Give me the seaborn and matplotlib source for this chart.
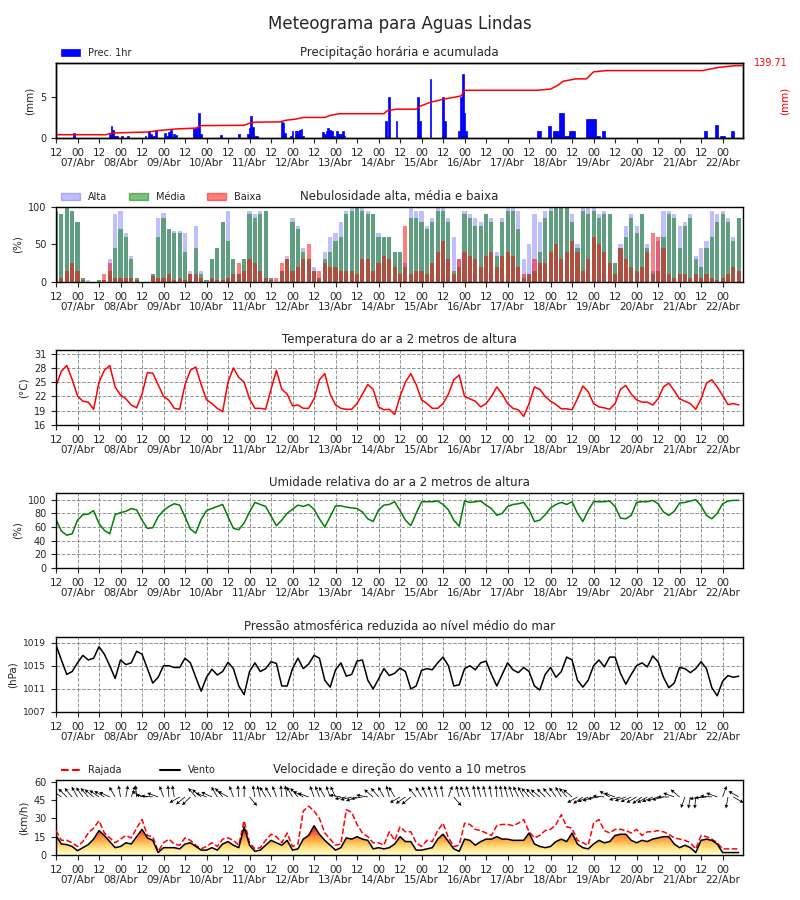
import numpy as np
import pandas as pd
import matplotlib
matplotlib.use("Agg")
import matplotlib.pyplot as plt
import seaborn as sns
from matplotlib.patches import Patch
from matplotlib.lines import Line2D

# horas desde 06/Abr 12h, passo de 3 h
horas = list(range(0, 384, 3))
dias = ["07/Abr", "08/Abr", "09/Abr", "10/Abr", "11/Abr", "12/Abr", "13/Abr", "14/Abr",
        "15/Abr", "16/Abr", "17/Abr", "18/Abr", "19/Abr", "20/Abr", "21/Abr", "22/Abr"]

prec_horas = [10, 30, 31, 32, 33, 34, 37, 40, 50, 52, 53, 54, 55, 56, 61, 62, 63, 64, 66, 67,
              77, 78, 79, 80, 81, 92, 102, 107, 108, 109, 110, 111, 112, 126, 127, 128, 131, 132,
              134, 135, 136, 137, 138, 149, 150, 151, 152, 153, 154, 155, 157, 158, 159, 160, 161,
              184, 186, 190, 202, 203, 209, 216, 217, 225, 226, 227, 228, 229, 269, 270, 275, 276,
              278, 279, 280, 281, 282, 283, 284, 285, 286, 287, 288, 289, 296, 297, 298, 299, 300,
              301, 302, 303, 305, 306, 362, 363, 368, 369, 371, 372, 373, 377, 378]
prec_mm = [0.6, 0.5, 1.5, 1.0, 0.2, 0.2, 0.3, 0.2, 0.2, 0.8, 0.5, 0.3, 0.3, 1.0, 0.6, 0.3, 0.7, 1.0, 0.5, 0.4,
           1.2, 1.2, 1.2, 3.0, 0.5, 0.4, 0.5, 0.5, 1.2, 2.7, 1.3, 0.2, 0.2, 2.0, 1.8, 0.6, 0.3, 0.8,
           0.8, 0.8, 1.0, 1.1, 0.2, 0.7, 0.5, 0.8, 1.2, 1.0, 0.9, 0.2, 0.8, 0.5, 0.5, 0.9, 0.2,
           2.1, 5.0, 2.1, 5.0, 2.1, 7.2, 5.0, 2.1, 0.8, 5.0, 7.8, 3.0, 0.8, 0.8, 0.8, 1.5, 1.5,
           0.8, 0.8, 0.8, 3.0, 3.0, 3.0, 0.3, 0.3, 0.3, 0.8, 0.8, 0.8, 2.3, 2.3, 2.3, 2.3, 2.3,
           2.3, 0.3, 0.3, 0.8, 0.8, 0.8, 0.8, 1.6, 1.6, 0.3, 0.3, 0.3, 0.8, 0.8]

acum_horas = [0, 28, 31, 40, 52, 57, 61, 67, 78, 81, 105, 108, 111, 125, 128, 134, 138, 150, 153,
              158, 183, 185, 190, 201, 203, 209, 217, 226, 228, 268, 276, 280, 283, 290, 296, 300,
              307, 361, 364, 370, 379, 383]
acum_mm = [6.3, 6.3, 9.5, 10.5, 11.6, 14.3, 15.5, 17.4, 19.0, 23.8, 24.5, 28.5, 30.5, 31.0, 34.0,
           36.5, 39.6, 39.6, 43.5, 46.8, 46.8, 53.0, 55.5, 55.5, 61.0, 69.0, 75.3, 81.0, 92.0,
           92.0, 94.3, 101.5, 109.4, 114.0, 114.0, 127.6, 130.0, 130.0, 132.4, 136.3, 139.5, 139.71]

alta = [95, 90, 100, 95, 80, 5, 2, 0, 2, 3,
        30, 90, 95, 65, 35, 5, 0, 0, 10, 85,
        92, 70, 68, 68, 65, 15, 75, 15, 2, 30,
        45, 80, 95, 30, 10, 30, 95, 90, 95, 95,
        5, 0, 15, 35, 85, 75, 45, 30, 20, 5,
        40, 60, 65, 80, 95, 100, 100, 100, 95, 90,
        65, 60, 60, 40, 40, 25, 100, 95, 95, 75,
        85, 100, 100, 85, 60, 30, 95, 90, 85, 80,
        90, 85, 40, 85, 100, 100, 95, 30, 50, 90,
        80, 95, 100, 100, 100, 100, 90, 50, 100, 100,
        100, 90, 95, 90, 25, 50, 75, 90, 75, 90,
        50, 15, 55, 95, 95, 90, 75, 80, 90, 35,
        45, 55, 95, 90, 95, 85, 60, 85]
media = [95, 90, 100, 95, 80, 5, 0, 0, 2, 3,
         15, 45, 70, 60, 30, 5, 0, 0, 10, 60,
         85, 70, 65, 65, 40, 10, 45, 10, 2, 30,
         45, 80, 55, 30, 10, 30, 90, 85, 90, 95,
         5, 0, 15, 30, 80, 70, 40, 30, 15, 5,
         30, 40, 55, 60, 90, 95, 100, 95, 90, 90,
         60, 60, 60, 40, 40, 20, 85, 85, 80, 70,
         80, 95, 95, 80, 15, 20, 90, 85, 75, 75,
         90, 80, 35, 80, 95, 95, 70, 5, 10, 15,
         40, 85, 95, 100, 100, 100, 80, 45, 95, 90,
         95, 85, 90, 90, 25, 45, 60, 85, 65, 90,
         45, 10, 15, 60, 90, 85, 45, 75, 85, 30,
         20, 45, 60, 80, 90, 80, 55, 85]
baixa = [2, 5, 15, 25, 15, 3, 0, 0, 0, 10,
         25, 5, 5, 5, 5, 2, 0, 0, 8, 5,
         5, 10, 3, 5, 3, 10, 10, 5, 0, 5,
         2, 3, 5, 10, 25, 15, 30, 25, 15, 5,
         2, 5, 25, 30, 15, 20, 30, 50, 15, 15,
         25, 20, 20, 15, 15, 15, 10, 30, 30, 15,
         25, 35, 30, 20, 10, 75, 10, 15, 15, 10,
         25, 40, 55, 30, 10, 30, 40, 35, 30, 20,
         35, 40, 20, 35, 40, 35, 20, 10, 10, 30,
         25, 25, 40, 50, 30, 40, 55, 40, 15, 30,
         60, 50, 40, 25, 10, 45, 30, 20, 15, 20,
         40, 65, 60, 45, 10, 5, 10, 10, 5, 10,
         5, 10, 5, 3, 5, 10, 20, 15]

temperatura = [24.2, 27.3, 28.5, 25.6, 22.1, 21.0, 20.8, 19.3, 25.0, 27.5,
               28.5, 24.0, 22.3, 21.5, 20.2, 19.6, 22.5, 27.0, 26.9, 24.5,
               22.0, 21.2, 19.5, 19.3, 24.5, 27.5, 28.2, 24.5, 21.3, 20.5,
               19.5, 18.8, 25.0, 28.0, 26.0, 25.0, 21.5, 19.5, 19.5, 19.3,
               23.5, 27.5, 23.5, 22.5, 20.0, 20.2, 19.5, 19.5, 21.5, 25.5,
               26.8, 22.5, 20.2, 19.5, 19.3, 19.3, 20.5, 22.5, 24.5, 23.5,
               19.8, 19.2, 19.3, 18.2, 22.0, 25.0, 26.8, 24.5, 21.3, 20.5,
               19.5, 19.5, 20.5, 22.5, 25.5, 26.5, 22.0, 21.5, 21.0, 19.8,
               20.5, 22.0, 24.0, 22.5, 20.5, 19.5, 19.2, 17.8, 20.5, 24.0,
               23.5, 22.0, 21.0, 20.3, 19.4, 19.4, 19.2, 21.5, 24.2, 23.0,
               20.5, 19.8, 19.6, 19.3, 20.5, 23.5, 24.3, 22.5, 21.3, 20.8,
               20.8, 20.2, 21.5, 24.0, 24.8, 23.2, 21.5, 21.0, 20.5, 19.3,
               21.5, 24.8, 25.5, 24.0, 22.2, 20.3, 20.5, 20.2]

umidade = [71, 54, 48, 50, 70, 78, 79, 84, 65, 55,
           50, 78, 81, 83, 87, 85, 70, 58, 59, 75,
           84, 90, 94, 92, 75, 57, 51, 71, 84, 87,
           90, 93, 75, 58, 56, 66, 82, 96, 93, 90,
           76, 62, 70, 80, 86, 92, 90, 93, 86, 72,
           60, 75, 91, 91, 89, 88, 87, 82, 72, 68,
           85, 92, 93, 97, 84, 70, 62, 80, 97, 97,
           97, 98, 93, 85, 70, 61, 98, 96, 97, 98,
           92, 87, 77, 80, 90, 93, 94, 96, 85, 68,
           70, 78, 88, 93, 96, 93, 97, 80, 68, 84,
           97, 97, 97, 98, 90, 73, 72, 77, 96, 97,
           97, 99, 94, 82, 77, 83, 95, 96, 98, 100,
           91, 77, 72, 80, 94, 98, 99, 99]

pressao = [1018.6, 1016.0, 1013.5, 1014.0, 1015.5, 1016.8, 1016.0, 1016.3, 1018.3, 1017.0,
           1015.0, 1012.8, 1016.0, 1015.2, 1015.5, 1017.5, 1017.0, 1014.5, 1012.0, 1013.0,
           1015.0, 1015.0, 1014.7, 1014.7, 1016.3, 1015.5, 1013.0, 1010.6, 1013.0, 1014.4,
           1013.4, 1014.0, 1015.6, 1014.5, 1011.5, 1010.0, 1014.0, 1015.5, 1014.0, 1014.5,
           1015.7, 1015.4, 1011.5, 1011.5, 1014.5, 1016.3, 1014.5, 1015.3, 1016.8, 1016.3,
           1012.5, 1011.3, 1014.3, 1015.5, 1013.2, 1013.5, 1015.8, 1016.0, 1012.5, 1011.0,
           1012.7, 1014.5, 1013.3, 1013.7, 1014.6, 1014.0, 1011.0, 1011.5, 1014.2, 1014.5,
           1014.3, 1015.5, 1016.5, 1015.0, 1011.5, 1011.7, 1014.5, 1015.0, 1014.3, 1015.5,
           1015.8, 1013.5, 1011.5, 1013.5, 1015.5, 1014.3, 1013.8, 1014.7, 1014.0, 1011.5,
           1010.8, 1013.5, 1014.7, 1013.0, 1014.0, 1016.5, 1016.0, 1012.5, 1011.3, 1012.5,
           1015.0, 1016.0, 1014.8, 1016.5, 1016.5, 1013.7, 1011.8, 1013.5, 1015.0, 1015.5,
           1014.8, 1016.7, 1015.7, 1013.0, 1011.2, 1012.0, 1014.7, 1014.5, 1013.8, 1014.5,
           1015.7, 1014.5, 1011.2, 1009.8, 1012.3, 1013.3, 1013.0, 1013.2]

vento = [16, 9, 8.5, 7, 3.5, 6, 8.5, 13, 20, 16,
         11, 6, 7, 10, 9, 15, 21, 14, 12, 2,
         6, 6, 6, 5, 9, 10, 7, 4, 4, 6,
         4, 9, 11, 8, 6, 23, 8, 3, 4, 8,
         12, 10, 8, 12, 4, 5, 13, 16, 24, 17,
         12, 8, 4, 6, 14, 13, 15, 13, 12, 5,
         6, 5, 6, 9, 15, 11, 11, 4, 4, 5,
         6, 13, 17, 11, 5, 3, 13, 12, 8, 11,
         13, 13, 15, 13, 13, 12, 12, 12, 18, 9,
         7, 6, 7, 11, 13, 11, 18, 9, 6, 5,
         9, 12, 10, 11, 16, 17, 17, 12, 10, 12,
         11, 13, 14, 15, 15, 9, 6, 8, 6, 2,
         12, 13, 12, 9, 2, 2, 2, 2]
rajada = [20, 12, 12, 10, 7, 11, 18, 22, 28, 18,
          14, 10, 13, 16, 14, 22, 29, 16, 15, 3,
          10, 13, 9, 8, 14, 12, 8, 5, 7, 10,
          7, 13, 14, 12, 8, 28, 10, 5, 6, 12,
          17, 15, 10, 18, 7, 9, 36, 40, 36, 30,
          18, 13, 8, 9, 37, 35, 25, 18, 15, 10,
          10, 8, 19, 12, 23, 19, 19, 10, 7, 12,
          11, 20, 26, 14, 7, 8, 26, 25, 21, 20,
          18, 16, 24, 25, 25, 24, 26, 29, 19, 14,
          16, 20, 21, 25, 33, 23, 22, 12, 10, 8,
          26, 29, 20, 18, 21, 21, 20, 18, 21, 16,
          19, 19, 20, 19, 17, 14, 13, 12, 10, 5,
          16, 15, 13, 10, 5, 5, 5, 5]
# direcao de onde sopra o vento (graus)
direcao = [130, 125, 135, 140, 150, 145, 140, 130, 125, 120,
           115, 150, 170, 190, 200, 175, 120, 100, 95, 110,
           160, 175, 170, 60, 50, 45, 140, 130, 110, 115,
           150, 140, 120, 160, 175, 180, 320, 170, 165, 150,
           150, 160, 175, 170, 150, 140, 120, 110, 160, 160,
           150, 160, 155, 100, 80, 75, 70, 80, 100, 130,
           140, 150, 165, 150, 60, 55, 50, 140, 150, 155,
           160, 165, 170, 200, 320, 165, 160, 160, 170, 165,
           165, 170, 175, 170, 165, 160, 155, 150, 140, 135,
           130, 135, 140, 145, 150, 140, 130, 60, 55, 65,
           70, 80, 95, 120, 110, 75, 70, 65, 60, 55,
           60, 65, 70, 75, 90, 110, 130, 20, 10, 5,
           80, 85, 95, 110, 200, 10, 300, 120]

df = pd.DataFrame({"hora": horas, "alta": alta, "media": media, "baixa": baixa,
                   "temp": temperatura, "umid": umidade, "pres": pressao,
                   "vento": vento, "rajada": rajada, "dir": direcao})

sns.set_style("ticks")
plt.rcParams["font.family"] = ["DejaVu Sans"]
plt.rcParams["axes.edgecolor"] = "black"
plt.rcParams["axes.linewidth"] = 1.0

fig = plt.figure(figsize=(8, 9), dpi=100)
fig.suptitle("Meteograma para Aguas Lindas", fontsize=12, y=0.983)

esq, larg, alt = 0.07, 0.859, 0.0835
fundos = [0.8467, 0.6867, 0.5278, 0.3689, 0.2089, 0.05]
axs = [fig.add_axes([esq, b, larg, alt]) for b in fundos]

xmax = 383.5


def eixo_tempo(ax):
    # horas (12/00) na primeira linha e datas na segunda
    ticks = list(range(0, 384, 12))
    ax.set_xticks(ticks)
    ax.set_xticklabels(["12" if i % 2 == 0 else "00" for i in range(len(ticks))], fontsize=7.5)
    ax.xaxis.remove_overlapping_locs = False
    ax.set_xticks(list(range(12, 384, 24)), minor=True)
    ax.set_xticklabels(dias, minor=True, fontsize=7.5)
    ax.tick_params(axis="x", which="minor", length=0, pad=14.5)
    ax.set_xlim(0, xmax)
    ax.set_xlabel("")
    ax.tick_params(axis="y", labelsize=7)
    ax.tick_params(which="major", length=3.5, width=0.8)


def grade(ax):
    ax.grid(True, which="major", linestyle="--", color="grey", linewidth=0.7, alpha=0.85)


# Precipitacao
ax = axs[0]
ax.bar(prec_horas, prec_mm, width=1.0, color="blue", edgecolor="blue", linewidth=0.5,
       label="Prec. 1hr")
ax.set_ylim(0, 9.15)
ax.set_yticks([0, 5])
ax.set_ylabel("(mm)", fontsize=7.5)
ax.set_title("Precipitação horária e acumulada", fontsize=8.5, pad=5)
ax.legend(loc="lower left", bbox_to_anchor=(0, 1.0), frameon=False, fontsize=7,
          borderaxespad=0.1)
eixo_tempo(ax)
ax2 = ax.twinx()
sns.lineplot(x=acum_horas, y=acum_mm, ax=ax2, color="red", linewidth=1.1)
ax2.set_ylim(0, 145)
ax2.set_yticks([])
ax2.set_ylabel("(mm)", color="red", fontsize=7.5, labelpad=26)
ax2.text(1.015, 1.0, f"{acum_mm[-1]:.2f}", transform=ax2.transAxes, color="red",
         fontsize=7, ha="left", va="center")
ax2.set_xlim(0, xmax)

# Nebulosidade
ax = axs[1]
ax.bar(df["hora"], df["alta"], width=2.3, color="blue", alpha=0.25, linewidth=0)
ax.bar(df["hora"], df["media"], width=2.3, color="green", alpha=0.5, linewidth=0)
ax.bar(df["hora"], df["baixa"], width=2.3, color="red", alpha=0.5, linewidth=0)
ax.set_ylim(0, 100)
ax.set_yticks([0, 50, 100])
ax.set_ylabel("(%)", fontsize=7.5)
ax.set_title("Nebulosidade alta, média e baixa", fontsize=8.5, pad=5)
ax.legend(handles=[Patch(color="blue", alpha=0.25, label="Alta"),
                   Patch(color="green", alpha=0.5, label="Média"),
                   Patch(color="red", alpha=0.5, label="Baixa")],
          loc="lower left", bbox_to_anchor=(0, 1.0), ncol=3, frameon=False, fontsize=7,
          borderaxespad=0.1, columnspacing=2.2)
eixo_tempo(ax)

# Temperatura
ax = axs[2]
sns.lineplot(data=df, x="hora", y="temp", ax=ax, color="red", linewidth=1.1)
ax.set_ylim(16, 31.8)
ax.set_yticks([16, 19, 22, 25, 28, 31])
ax.set_ylabel("(°C)", fontsize=7.5)
ax.set_title("Temperatura do ar a 2 metros de altura", fontsize=8.5, pad=5)
eixo_tempo(ax)
grade(ax)

# Umidade
ax = axs[3]
sns.lineplot(data=df, x="hora", y="umid", ax=ax, color="green", linewidth=1.1)
ax.set_ylim(0, 110)
ax.set_yticks([0, 20, 40, 60, 80, 100])
ax.set_ylabel("(%)", fontsize=7.5)
ax.set_title("Umidade relativa do ar a 2 metros de altura", fontsize=8.5, pad=5)
eixo_tempo(ax)
grade(ax)

# Pressao
ax = axs[4]
sns.lineplot(data=df, x="hora", y="pres", ax=ax, color="black", linewidth=1.1)
ax.set_ylim(1007, 1020)
ax.set_yticks([1007, 1011, 1015, 1019])
ax.set_ylabel("(hPa)", fontsize=7.5)
ax.set_title("Pressão atmosférica reduzida ao nível médio do mar", fontsize=8.5, pad=5)
eixo_tempo(ax)
ax.tick_params(axis="y", labelsize=6.5)
grade(ax)

# Vento
ax = axs[5]
preench = ax.fill_between(df["hora"], df["vento"], 0, facecolor="none", edgecolor="none")
grad = np.linspace(0, 1, 256).reshape(-1, 1)
img = ax.imshow(grad, extent=[0, xmax, 0, 28], origin="lower", aspect="auto",
                cmap="YlOrRd", vmin=0, vmax=1.05, zorder=1)
img.set_clip_path(preench.get_paths()[0], transform=ax.transData)
sns.lineplot(data=df, x="hora", y="rajada", ax=ax, color="red", linestyle="--",
             linewidth=1.1, zorder=3)
sns.lineplot(data=df, x="hora", y="vento", ax=ax, color="black", linewidth=1.1, zorder=4)
# setas de direcao com comprimento fixo
rad = np.deg2rad(df["dir"].to_numpy())
u = -np.sin(rad)
v = -np.cos(rad)
ax.quiver(df["hora"], np.full(len(df), 47.5), u, v, angles="uv", scale_units="inches",
          scale=8.5, width=0.0011, headwidth=5, headlength=5, headaxislength=4.5,
          color="black", zorder=5)
ax.set_ylim(0, 61.5)
ax.set_yticks([0, 15, 30, 45, 60])
ax.set_ylabel("(km/h)", fontsize=7.5)
ax.set_title("Velocidade e direção do vento a 10 metros", fontsize=8.5, pad=5)
ax.legend(handles=[Line2D([], [], color="red", linestyle="--", label="Rajada"),
                   Line2D([], [], color="black", label="Vento")],
          loc="lower left", bbox_to_anchor=(0, 1.0), ncol=2, frameon=False, fontsize=7,
          borderaxespad=0.1, columnspacing=4)
eixo_tempo(ax)

fig.savefig("out.png", dpi=100)
